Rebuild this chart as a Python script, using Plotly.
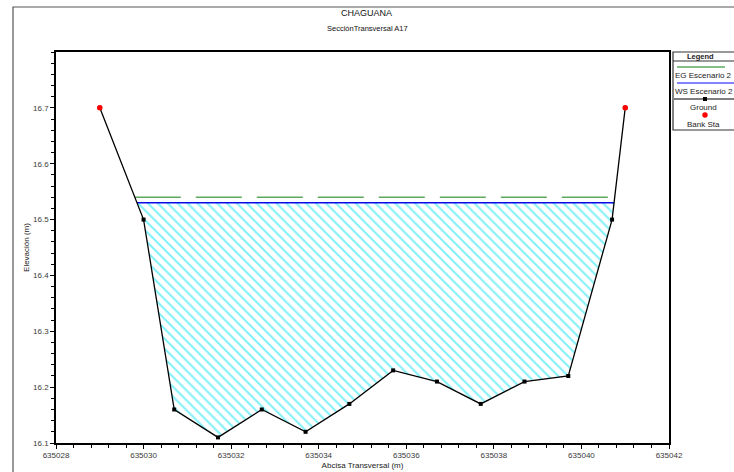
import numpy as np
import plotly.graph_objects as go

# ---------------- data ----------------
station = [635029.0, 635030.0, 635030.7, 635031.7, 635032.7, 635033.7, 635034.7,
           635035.7, 635036.7, 635037.7, 635038.7, 635039.7, 635040.7, 635041.0]
elevation = [16.70, 16.50, 16.16, 16.11, 16.16, 16.12, 16.17,
             16.23, 16.21, 16.17, 16.21, 16.22, 16.50, 16.70]
bank_station = [635029.0, 635041.0]
bank_elevation = [16.70, 16.70]
ws_level = 16.53
eg_level = 16.54

x_ticks = [635028, 635030, 635032, 635034, 635036, 635038, 635040, 635042]
y_ticks = [16.1, 16.2, 16.3, 16.4, 16.5, 16.6, 16.7]

title = "CHAGUANA"
subtitle = "SecciónTransversal A17"
x_title = "Abcisa Transversal (m)"
y_title = "Elevación (m)"
legend_names = ["EG Escenario 2", "WS Escenario 2", "Ground", "Bank Sta"]


def crossings(level):
    xs = np.array(station)
    ys = np.array(elevation)
    pts = []
    for i in range(len(xs) - 1):
        y0, y1 = ys[i], ys[i + 1]
        if (y0 - level) * (y1 - level) < 0:
            t = (level - y0) / (y1 - y0)
            pts.append((i, xs[i] + t * (xs[i + 1] - xs[i])))
    return pts


def water_polygon(level):
    c = crossings(level)
    (i0, xl), (i1, xr) = c[0], c[-1]
    px = [xl] + station[i0 + 1:i1 + 1] + [xr, xl]
    py = [level] + elevation[i0 + 1:i1 + 1] + [level, level]
    return px, py


wx, wy = water_polygon(ws_level)
ws_c = crossings(ws_level)
eg_c = crossings(eg_level)

fig = go.Figure()

# hatched water area
fig.add_trace(go.Scatter(
    x=wx, y=wy, mode="lines", fill="toself",
    line=dict(width=0, color="rgba(0,0,0,0)"),
    fillcolor="rgba(0,0,0,0)",
    fillpattern=dict(shape="\\", fgcolor="#00e2f2", bgcolor="white",
                     size=7, solidity=0.28),
    hoverinfo="skip", showlegend=False))

# WS line
fig.add_trace(go.Scatter(
    x=[ws_c[0][1], ws_c[-1][1]], y=[ws_level, ws_level], mode="lines",
    line=dict(color="#0a0ae6", width=1.5), name=legend_names[1], showlegend=False))

# EG line
fig.add_trace(go.Scatter(
    x=[eg_c[0][1], eg_c[-1][1]], y=[eg_level, eg_level], mode="lines",
    line=dict(color="#5ea85e", width=1.5, dash="46px,15px"),
    name=legend_names[0], showlegend=False))

# Ground
fig.add_trace(go.Scatter(
    x=station, y=elevation, mode="lines+markers",
    line=dict(color="black", width=1.3),
    marker=dict(symbol="square", size=4, color="black"),
    name=legend_names[2], showlegend=False))

# Bank stations
fig.add_trace(go.Scatter(
    x=bank_station, y=bank_elevation, mode="markers",
    marker=dict(symbol="circle", size=5.5, color="#ff0000"),
    name=legend_names[3], showlegend=False))

# ---------------- layout ----------------
W, H = 734, 472
L, R, T, B = 56, 669, 52, 443


def px(xp):
    return (xp - L) / (R - L)


def py(yp):
    return (B - yp) / (B - T)


font_family = "Arial, Liberation Sans, sans-serif"

shapes = []
annotations = []

# outer frame
shapes.append(dict(type="rect", xref="paper", yref="paper",
                   x0=px(13), x1=px(760), y0=py(500), y1=py(7),
                   line=dict(color="#555555", width=1.2), layer="below"))

# legend box
lx0, lx1, ly0, ly1 = 673, 742, 52, 130
shapes.append(dict(type="rect", xref="paper", yref="paper",
                   x0=px(lx0), x1=px(lx1), y0=py(ly1), y1=py(ly0),
                   line=dict(color="#333333", width=1.2), fillcolor="white"))
shapes.append(dict(type="line", xref="paper", yref="paper",
                   x0=px(lx0), x1=px(lx1), y0=py(61), y1=py(61),
                   line=dict(color="#333333", width=1)))
shapes.append(dict(type="line", xref="paper", yref="paper",
                   x0=px(677), x1=px(725), y0=py(67), y1=py(67),
                   line=dict(color="#5ea85e", width=1.5)))
shapes.append(dict(type="line", xref="paper", yref="paper",
                   x0=px(677), x1=px(736), y0=py(83), y1=py(83),
                   line=dict(color="#5a5aff", width=1.5)))
shapes.append(dict(type="line", xref="paper", yref="paper",
                   x0=px(674), x1=px(736), y0=py(99), y1=py(99),
                   line=dict(color="black", width=1.2)))
shapes.append(dict(type="rect", xref="paper", yref="paper",
                   x0=px(703), x1=px(707), y0=py(101), y1=py(97),
                   line=dict(width=0), fillcolor="black"))
shapes.append(dict(type="circle", xref="paper", yref="paper",
                   x0=px(702.3), x1=px(707.7), y0=py(117.7), y1=py(112.3),
                   line=dict(width=0), fillcolor="#ff0000"))

leg_font = dict(family=font_family, size=8, color="#222222")
annotations.append(dict(text="<b>Legend</b>", xref="paper", yref="paper",
                        x=px(700), y=py(56.5), showarrow=False,
                        xanchor="center", yanchor="middle",
                        font=dict(family=font_family, size=7.5, color="#222222")))
for name, yy in zip(legend_names, [75, 91.5, 107, 124.5]):
    annotations.append(dict(text=name, xref="paper", yref="paper",
                            x=px(703.5), y=py(yy), showarrow=False,
                            xanchor="center", yanchor="middle", font=leg_font))

# titles
annotations.append(dict(text=title, xref="paper", yref="paper",
                        x=px(366), y=py(13), showarrow=False,
                        xanchor="center", yanchor="middle",
                        font=dict(family=font_family, size=9, color="#111111")))
annotations.append(dict(text=subtitle, xref="paper", yref="paper",
                        x=px(367), y=py(28), showarrow=False,
                        xanchor="center", yanchor="middle",
                        font=dict(family=font_family, size=7.5, color="#111111")))

tick_font = dict(family=font_family, size=8, color="#3a3a3a")

fig.update_layout(
    width=W, height=H,
    margin=dict(l=L, r=W - R, t=T, b=H - B, autoexpand=False),
    paper_bgcolor="white", plot_bgcolor="white",
    showlegend=False,
    shapes=shapes, annotations=annotations,
    font=dict(family=font_family, color="#333333"),
)

fig.update_xaxes(
    range=[635028, 635042], tickvals=x_ticks, ticktext=[str(v) for v in x_ticks],
    showgrid=False, zeroline=False, showline=True, linecolor="black",
    linewidth=1.5, mirror=True, ticks="outside", ticklen=4, tickwidth=1,
    tickcolor="black", tickfont=tick_font, automargin=False,
    minor=dict(dtick=0.4, tick0=635028, ticks="outside", ticklen=3,
               tickcolor="black", showgrid=False),
    title=dict(text=x_title, font=dict(family=font_family, size=8, color="#222222"),
               standoff=3),
)
fig.update_yaxes(
    range=[16.1, 16.8], tickvals=y_ticks, ticktext=[f"{v:.1f}" for v in y_ticks],
    showgrid=False, zeroline=False, showline=True, linecolor="black",
    linewidth=1.5, mirror=True, ticks="outside", ticklen=4, tickwidth=1,
    tickcolor="black", tickfont=tick_font, automargin=False,
    minor=dict(dtick=0.02, tick0=16.1, ticks="outside", ticklen=3,
               tickcolor="black", showgrid=False),
    title=dict(text=y_title, font=dict(family=font_family, size=8, color="#222222"),
               standoff=2),
)

fig.write_html(
    "out.html",
    config={"displayModeBar": False},
    post_script="document.body.style.margin='0';document.body.style.padding='0';"
                "document.body.style.overflow='hidden';",
)
